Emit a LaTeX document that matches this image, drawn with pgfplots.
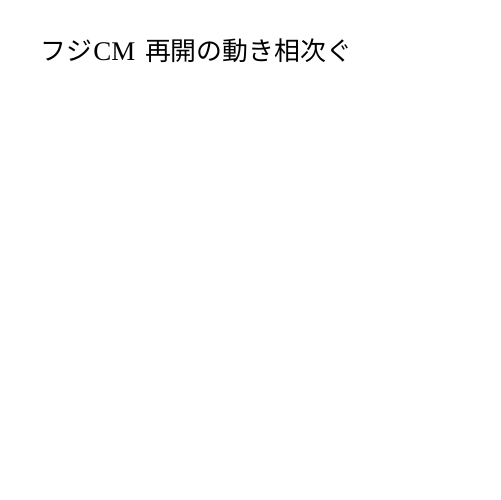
\documentclass[border=0pt]{standalone}
\usepackage{fontspec}
\setmainfont{Liberation Serif}
\newfontfamily\cjk{Noto Sans CJK JP}
\usepackage{pgfplots}
\pgfplotsset{compat=1.18}

\begin{document}
\begin{tikzpicture}
\begin{axis}[
    name=ax,
    scale only axis,
    width=361.35pt,
    height=361.35pt,
    xmin=0, xmax=500,
    ymin=0, ymax=500,
    hide axis,
    clip=false,
]
% the chart itself is empty: only its title is drawn
\addplot[draw=none] coordinates {(0,0) (500,500)};
\node[anchor=base west, inner sep=0pt]
    at (axis cs:40,439)
    {{\cjk\fontsize{18.7}{22}\selectfont フジ}\hspace{1pt}{\fontsize{19.5}{24}\selectfont CM}\hspace{7pt}{\cjk\fontsize{18.7}{22}\selectfont 再開の動き相次ぐ}};
\end{axis}
\path (ax.south west) rectangle (ax.north east);
\end{tikzpicture}
\end{document}
